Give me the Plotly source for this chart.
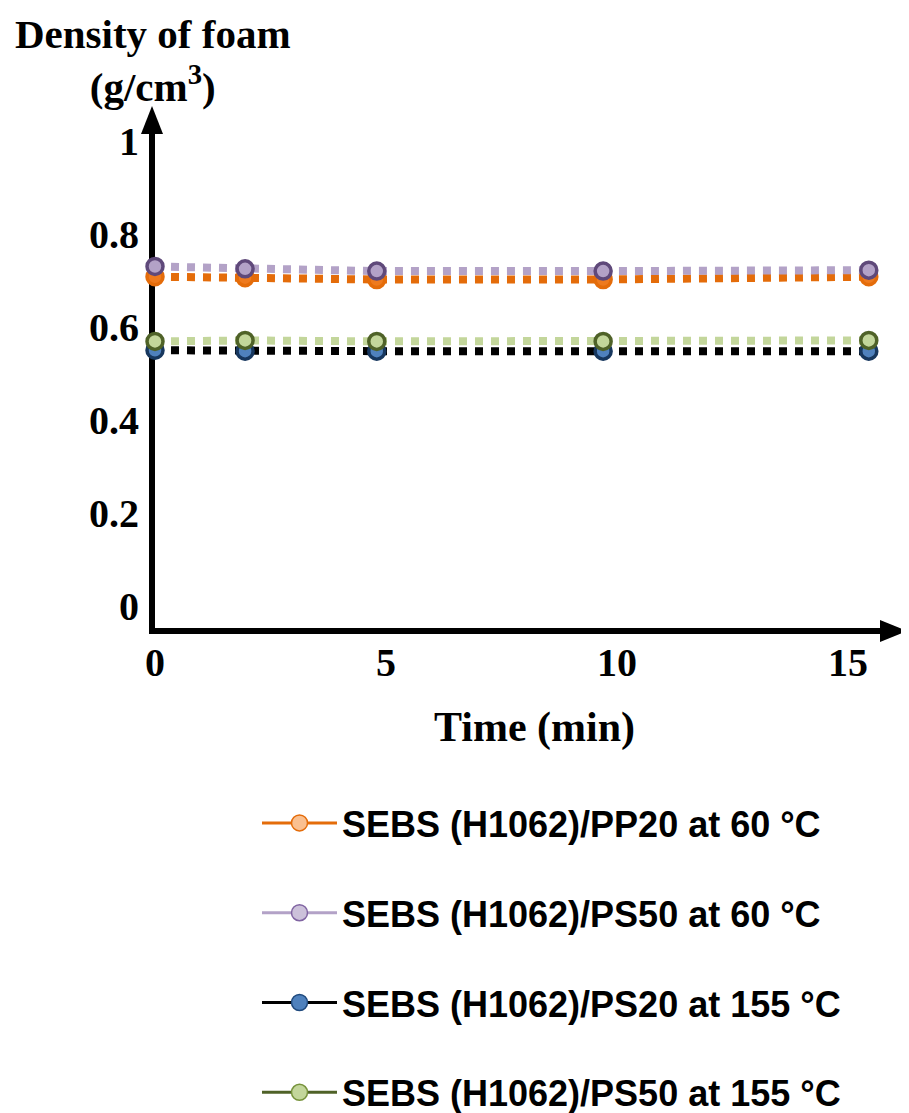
import plotly.graph_objects as go

# ---- data ----
time_min = [0, 1.95, 4.8, 9.7, 15.45]
pp20_60 = [0.708, 0.706, 0.702, 0.702, 0.708]
ps50_60 = [0.730, 0.725, 0.720, 0.720, 0.722]
ps20_155 = [0.550, 0.548, 0.548, 0.548, 0.548]
ps50_155 = [0.569, 0.571, 0.569, 0.569, 0.571]

series_names = [
    "SEBS (H1062)/PP20 at 60 °C",
    "SEBS (H1062)/PS50 at 60 °C",
    "SEBS (H1062)/PS20 at 155 °C",
    "SEBS (H1062)/PS50 at 155 °C",
]
x_tick_vals = [0, 5, 10, 15]
x_tick_text = ["0", "5", "10", "15"]
y_tick_vals = [0, 0.2, 0.4, 0.6, 0.8, 1.0]
y_tick_text = ["0", "0.2", "0.4", "0.6", "0.8", "1"]

# ---- styles ----
plot_styles = {
    series_names[0]: dict(line="#E46C0A", mfill="#EE7A1E", mline="#E46C0A"),
    series_names[1]: dict(line="#B3A2C7", mfill="#B3A2C7", mline="#5F497A"),
    series_names[2]: dict(line="#000000", mfill="#4F81BD", mline="#17375E"),
    series_names[3]: dict(line="#C3D69B", mfill="#C3D69B", mline="#4F6228"),
}
legend_styles = {
    series_names[0]: dict(line="#E46C0A", mfill="#FAC090", mline="#E46C0A"),
    series_names[1]: dict(line="#B3A2C7", mfill="#CCC1DA", mline="#8064A2"),
    series_names[2]: dict(line="#000000", mfill="#4F81BD", mline="#1F497D"),
    series_names[3]: dict(line="#4F6228", mfill="#C3D69B", mline="#77933C"),
}
values = {
    series_names[0]: pp20_60,
    series_names[1]: ps50_60,
    series_names[2]: ps20_155,
    series_names[3]: ps50_155,
}

fig = go.Figure()

# plotted series (drawing order: lower ones first)
for name in [series_names[2], series_names[3], series_names[0], series_names[1]]:
    st = plot_styles[name]
    fig.add_trace(go.Scatter(
        x=time_min, y=values[name], mode="lines+markers", name=name,
        showlegend=False, cliponaxis=False,
        line=dict(color=st["line"], width=8, dash="dot"),
        marker=dict(size=16, color=st["mfill"], line=dict(color=st["mline"], width=3.5)),
    ))

# legend entries
for i, name in enumerate(series_names):
    st = legend_styles[name]
    fig.add_trace(go.Scatter(
        x=[None], y=[None], mode="lines+markers", name=name,
        legendgroup=f"g{i}", showlegend=True,
        line=dict(color=st["line"], width=3),
        marker=dict(size=16, color=st["mfill"], line=dict(color=st["mline"], width=1.5)),
    ))

# page has an 8px body margin: figure pixel = page pixel - OFF
OFF = 8
W, H = 909 - OFF, 1113 - OFF
L = 155 - OFF             # x=0 at page x 155
T = 132 - OFF             # plot top at page y 132
BOT = 628 - OFF           # plot bottom at page y 628
RIGHT = 882 - OFF         # plot right at page x 882
R = W - RIGHT
B = H - BOT
PW = RIGHT - L
PH = BOT - T


def page_to_paper(xp, yp):
    return (xp - OFF - L) / PW, (BOT - (yp - OFF)) / PH


serif = "Liberation Serif"
lx, ly = page_to_paper(257, 793)
fig.update_layout(
    width=W, height=H,
    margin=dict(l=L, r=R, t=T, b=B, autoexpand=False),
    paper_bgcolor="white", plot_bgcolor="white",
    showlegend=True,
    legend=dict(
        x=lx, y=ly, xanchor="left", yanchor="top",
        font=dict(family="Liberation Sans", size=36, color="black", weight="bold"),
        tracegroupgap=40, itemwidth=75, bgcolor="rgba(0,0,0,0)",
    ),
    xaxis=dict(
        range=[0, PW / 46.2], tickmode="array", tickvals=x_tick_vals, ticktext=x_tick_text,
        showgrid=False, zeroline=False, showline=True, linecolor="black", linewidth=6,
        ticks="", ticklabelstandoff=-6, layer="below traces",
        tickfont=dict(family=serif, size=40, color="black", weight="bold"),
    ),
    yaxis=dict(
        range=[-0.047, 1.019], tickmode="array", tickvals=y_tick_vals, ticktext=y_tick_text,
        showgrid=False, zeroline=False, showline=True, linecolor="black", linewidth=6,
        ticks="", ticklabelstandoff=2, layer="below traces",
        tickfont=dict(family=serif, size=40, color="black", weight="bold"),
    ),
)

# axis arrowheads (paper coordinates, from page-pixel geometry)
ya = [page_to_paper(*p) for p in [(141, 134), (152, 106), (163, 134)]]
xa = [page_to_paper(*p) for p in [(880, 620), (907, 631), (880, 642)]]
fig.add_shape(type="path", xref="paper", yref="paper",
              path="M %f,%f L %f,%f L %f,%f Z" % (ya[0] + ya[1] + ya[2]),
              fillcolor="black", line=dict(color="black", width=0))
fig.add_shape(type="path", xref="paper", yref="paper",
              path="M %f,%f L %f,%f L %f,%f Z" % (xa[0] + xa[1] + xa[2]),
              fillcolor="black", line=dict(color="black", width=0))

# axis titles
tx, ty = page_to_paper(153, 9)
fig.add_annotation(text="<b>Density of foam</b><br><b>(g/cm<sup>3</sup>)</b>",
                   xref="paper", yref="paper",
                   x=tx, y=ty, showarrow=False, xanchor="center", yanchor="top",
                   align="center",
                   font=dict(family=serif, size=41, color="black"))
tx, ty = page_to_paper(534, 727)
fig.add_annotation(text="<b>Time (min)</b>", xref="paper", yref="paper",
                   x=tx, y=ty, showarrow=False, xanchor="center", yanchor="middle",
                   font=dict(family=serif, size=42, color="black"))

fig.write_html("out.html")
